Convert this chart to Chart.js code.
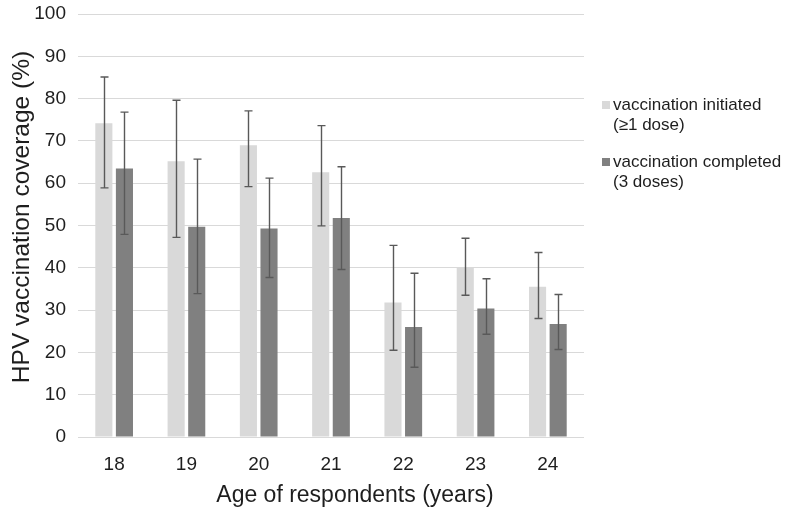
<!DOCTYPE html>
<html>
<head>
<meta charset="utf-8">
<script src="https://cdn.jsdelivr.net/npm/chart.js@4/dist/chart.umd.min.js"></script>
<style>
  html, body { margin: 0; padding: 0; background: #fff; }
  #wrap { width: 786px; height: 513px; position: relative; }
</style>
</head>
<body>
<div id="wrap"><canvas id="c" width="786" height="513"></canvas></div>
<script>
const ages = ['18', '19', '20', '21', '22', '23', '24'];
const seriesNames = [['vaccination initiated', '(\u22651 dose)'], ['vaccination completed', '(3 doses)']];
const initiated     = [74.2, 65.2, 69.0, 62.6, 31.8, 40.0, 35.5];
const initiatedLow  = [58.9, 47.2, 59.2, 49.9, 20.5, 33.5, 28.0];
const initiatedHigh = [85.1, 79.6, 77.1, 73.6, 45.3, 47.0, 43.6];
const completed     = [63.5, 49.7, 49.3, 51.8, 26.0, 30.4, 26.7];
const completedLow  = [47.9, 33.9, 37.7, 39.6, 16.5, 24.3, 20.7];
const completedHigh = [76.8, 65.7, 61.2, 63.9, 38.7, 37.4, 33.7];
const yTicks = [0, 10, 20, 30, 40, 50, 60, 70, 80, 90, 100];
const xTitle = 'Age of respondents (years)';
const yTitle = 'HPV vaccination coverage (%)';

const FONT = '"Liberation Sans", Arial, sans-serif';
const TEXT = '#1e1e1e';
const colors = ['#d9d9d9', '#808080'];
const lows = [initiatedLow, completedLow];
const highs = [initiatedHigh, completedHigh];

const errorBars = {
  id: 'errorBars',
  afterDatasetsDraw(chart) {
    const ctx = chart.ctx;
    const y = chart.scales.y;
    ctx.save();
    ctx.strokeStyle = '#595959';
    ctx.lineWidth = 1.4;
    chart.data.datasets.forEach((ds, di) => {
      const meta = chart.getDatasetMeta(di);
      meta.data.forEach((bar, i) => {
        const x = Math.round(bar.x) + 0.5;
        const yl = y.getPixelForValue(lows[di][i]);
        const yh = y.getPixelForValue(highs[di][i]);
        ctx.beginPath();
        ctx.moveTo(x, yl); ctx.lineTo(x, yh);
        ctx.moveTo(x - 4, yl); ctx.lineTo(x + 4, yl);
        ctx.moveTo(x - 4, yh); ctx.lineTo(x + 4, yh);
        ctx.stroke();
      });
    });
    ctx.restore();
  }
};

const titlesAndLegend = {
  id: 'titlesAndLegend',
  afterDraw(chart) {
    const ctx = chart.ctx;
    ctx.save();
    ctx.fillStyle = TEXT;
    ctx.textAlign = 'center';
    ctx.textBaseline = 'middle';
    ctx.font = '23px ' + FONT;
    ctx.fillText(xTitle, 355, 496);
    ctx.font = '24.5px ' + FONT;
    ctx.translate(22, 217);
    ctx.rotate(-Math.PI / 2);
    ctx.fillText(yTitle, 0, 0);
    ctx.restore();

    ctx.save();
    ctx.font = '17px ' + FONT;
    ctx.textAlign = 'left';
    ctx.textBaseline = 'middle';
    const tops = [105, 162];
    seriesNames.forEach((lines, i) => {
      ctx.fillStyle = colors[i];
      ctx.fillRect(602, tops[i] - 4, 8, 8);
      ctx.fillStyle = TEXT;
      lines.forEach((t, k) => ctx.fillText(t, 613, tops[i] + k * 20));
    });
    ctx.restore();
  }
};

new Chart(document.getElementById('c'), {
  type: 'bar',
  data: {
    labels: ages,
    datasets: [
      { label: seriesNames[0].join(' '), data: initiated, backgroundColor: colors[0] },
      { label: seriesNames[1].join(' '), data: completed, backgroundColor: colors[1] }
    ]
  },
  options: {
    responsive: false,
    animation: false,
    devicePixelRatio: 1,
    categoryPercentage: 0.57,
    barPercentage: 0.83,
    layout: { padding: { left: 0, right: 202, top: 14, bottom: 0 } },
    plugins: { legend: { display: false }, tooltip: { enabled: false } },
    scales: {
      x: {
        grid: { display: false },
        border: { display: false },
        ticks: { color: TEXT, font: { family: FONT, size: 19 }, padding: 8 },
        afterFit: s => { s.height = 76; }
      },
      y: {
        min: 0, max: 100,
        afterBuildTicks: s => { s.ticks = yTicks.map(v => ({ value: v })); },
        grid: { color: '#d9d9d9', lineWidth: 1, drawTicks: false },
        border: { display: false },
        ticks: { color: TEXT, font: { family: FONT, size: 19 }, padding: 12 },
        afterFit: s => { s.width = 78; s.paddingTop = 0; }
      }
    }
  },
  plugins: [errorBars, titlesAndLegend]
});
</script>
</body>
</html>
